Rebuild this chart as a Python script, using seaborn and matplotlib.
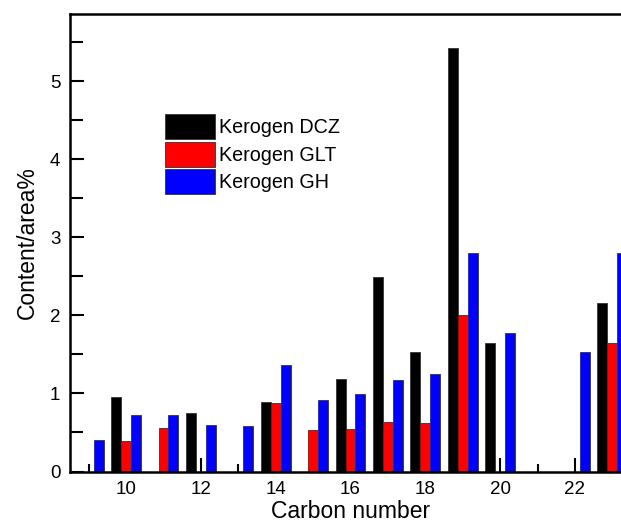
import numpy as np
import pandas as pd
import seaborn as sns
import matplotlib.pyplot as plt
from matplotlib.ticker import MultipleLocator

nan = np.nan

# carbon numbers and content (area %) per kerogen sample
carbon = [9, 10, 11, 12, 13, 14, 15, 16, 17, 18, 19, 20, 21, 22, 23]
dcz = [nan, 0.95, nan, 0.75, nan, 0.89, nan, 1.18, 2.49, 1.53, 5.43, 1.65, nan, nan, 2.16]
glt = [nan, 0.39, 0.56, nan, nan, 0.88, 0.53, 0.55, 0.64, 0.62, 2.01, nan, nan, nan, 1.64]
gh = [0.40, 0.72, 0.73, 0.60, 0.58, 1.37, 0.91, 0.99, 1.17, 1.25, 2.80, 1.77, nan, 1.53, 2.80]
samples = ["Kerogen DCZ", "Kerogen GLT", "Kerogen GH"]
colors = ["#000000", "#ff0000", "#0000ff"]

df = pd.DataFrame({"carbon": carbon * 3,
                   "value": dcz + glt + gh,
                   "sample": [s for s in samples for _ in carbon]})
df = df.dropna()

sns.set_style("ticks")
plt.rcParams['font.family'] = ['Liberation Sans', 'DejaVu Sans']
plt.rcParams['text.color'] = 'black'
plt.rcParams['axes.labelcolor'] = 'black'
plt.rcParams['xtick.color'] = 'black'
plt.rcParams['ytick.color'] = 'black'
plt.rcParams['axes.edgecolor'] = 'black'

fig = plt.figure(figsize=(6.21, 5.24), dpi=100)
ax = fig.add_axes([70 / 621, 52.5 / 524, 561 / 621, 457.5 / 524])

sns.barplot(data=df, x="carbon", y="value", hue="sample", hue_order=samples,
            native_scale=True, palette=colors, saturation=1, errorbar=None,
            width=0.8, edgecolor="#333333", linewidth=0.6, ax=ax)

ax.set_xlim(8.5, 23.5)
ax.set_ylim(0, 5.86)
ax.xaxis.set_major_locator(MultipleLocator(2))
ax.xaxis.set_minor_locator(MultipleLocator(1))
ax.yaxis.set_major_locator(MultipleLocator(1))
ax.yaxis.set_minor_locator(MultipleLocator(0.5))
ax.tick_params(which="major", direction="in", length=10, width=1.5, labelsize=13.5)
ax.tick_params(axis="x", which="major", pad=7)
ax.tick_params(axis="y", which="major", pad=7)
ax.tick_params(which="minor", direction="in", length=6, width=1.5)
ax.tick_params(axis="y", which="minor", length=9)
for sp in ax.spines.values():
    sp.set_linewidth(1.8)
    sp.set_visible(True)

ax.set_xlabel("Carbon number", fontsize=16.5, labelpad=1)
ax.set_ylabel("Content/area%", fontsize=16.5, labelpad=8)

handles, labels = ax.get_legend_handles_labels()
ax.legend(handles, labels, loc="upper left", bbox_to_anchor=(0.169, 0.782),
          frameon=False, fontsize=14.2, handlelength=2.54, handleheight=1.575,
          labelspacing=0.14, handletextpad=0.2, borderpad=0, borderaxespad=0)

plt.savefig("out.png", dpi=100)
